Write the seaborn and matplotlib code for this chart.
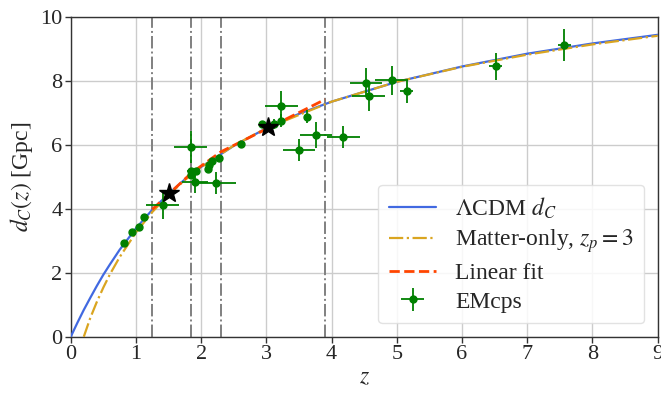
import numpy as np
import pandas as pd
import matplotlib
matplotlib.use("Agg")
import matplotlib.pyplot as plt
import seaborn as sns

# ---- data ----
lcdm_z = [0, 0.1, 0.2, 0.3, 0.4, 0.5, 0.6, 0.75, 1.0, 1.25, 1.5, 1.75, 2.0, 2.5, 3.0, 3.5, 4.0, 5.0, 6.0, 7.0, 8.0, 9.0]
lcdm_d = [0, 0.43, 0.84, 1.22, 1.59, 1.94, 2.26, 2.72, 3.39, 3.97, 4.47, 4.92, 5.31, 5.97, 6.52, 6.97, 7.35, 7.97, 8.45, 8.85, 9.17, 9.44]

matter_z = [0.2, 0.3, 0.4, 0.5, 0.6, 0.75, 1.0, 1.25, 1.5, 1.75, 2.0, 2.5, 3.0, 4.0, 5.0, 6.0, 7.0, 8.0, 9.0]
matter_d = [0.0, 0.59, 1.09, 1.54, 1.95, 2.49, 3.26, 3.90, 4.43, 4.90, 5.30, 5.98, 6.52, 7.35, 7.97, 8.44, 8.82, 9.14, 9.41]

fit_z = [1.25, 1.85, 2.3, 3.9]
fit_d = [3.98, 5.12, 5.78, 7.42]

em_z = [0.81, 0.94, 1.05, 1.12, 1.41, 1.84, 1.84, 1.85, 1.92, 1.91, 2.23, 2.10, 2.12, 2.17, 2.27,
        2.61, 2.94, 3.11, 3.23, 3.23, 3.62, 3.50, 3.76, 4.18, 4.53, 4.57, 4.92, 5.15, 6.52, 7.57]
em_d = [2.92, 3.27, 3.44, 3.73, 4.12, 5.92, 5.18, 5.06, 5.17, 4.84, 4.80, 5.25, 5.37, 5.48, 5.59,
        6.03, 6.66, 6.66, 6.76, 7.23, 6.88, 5.84, 6.31, 6.24, 7.94, 7.52, 8.02, 7.67, 8.46, 9.12]
em_zerr = [0, 0, 0, 0, 0.25, 0.25, 0.05, 0.05, 0.05, 0.2, 0.3, 0, 0, 0, 0,
           0, 0.06, 0.05, 0, 0.25, 0, 0.25, 0.25, 0.25, 0.25, 0.25, 0.25, 0.1, 0.1, 0.1]
em_derr = [0, 0, 0, 0, 0.45, 0.5, 0.1, 0.1, 0.1, 0.35, 0.35, 0.1, 0.1, 0.1, 0.1,
           0.1, 0.1, 0.15, 0.2, 0.45, 0.2, 0.35, 0.4, 0.35, 0.45, 0.45, 0.45, 0.35, 0.42, 0.5]

star_z = [1.51, 3.02]
star_d = [4.49, 6.55]

vline_z = [1.25, 1.85, 2.3, 3.9]

# ---- style ----
sns.set_theme(style="whitegrid")
plt.rcParams["font.family"] = ["Liberation Serif", "DejaVu Serif"]
plt.rcParams["mathtext.fontset"] = "stix"
plt.rcParams["axes.edgecolor"] = "#333333"
plt.rcParams["grid.color"] = "#cccccc"

fig = plt.figure(figsize=(6.61, 3.93), dpi=100)
ax = fig.add_axes([0.107, 0.143, 0.888, 0.814])

lcdm = pd.DataFrame({"z": lcdm_z, "d": lcdm_d})
matter = pd.DataFrame({"z": matter_z, "d": matter_d})
fit = pd.DataFrame({"z": fit_z, "d": fit_d})

for vz in vline_z:
    ax.axvline(vz, color="gray", linestyle="-.", linewidth=1.4, zorder=1.5)

sns.lineplot(data=lcdm, x="z", y="d", ax=ax, color="royalblue", linewidth=1.6,
             label=r"$\Lambda$CDM $d_C$", estimator=None, sort=False, zorder=3)
sns.lineplot(data=matter, x="z", y="d", ax=ax, color="goldenrod", linewidth=1.6,
             linestyle="-.", label=r"Matter-only, $z_p = 3$", estimator=None, sort=False, zorder=3)
sns.lineplot(data=fit, x="z", y="d", ax=ax, color="orangered", linewidth=2.0,
             linestyle="--", label="Linear fit", estimator=None, sort=False, zorder=3.5)

ax.errorbar(em_z, em_d, xerr=em_zerr, yerr=em_derr, fmt="o", color="green",
            markersize=5, elinewidth=1.3, capsize=0, label="EMcps", zorder=4)
ax.plot(star_z, star_d, linestyle="none", marker="*", color="black",
        markersize=15, zorder=5)

ax.set_xlim(0, 9)
ax.set_ylim(0, 10)
ax.set_xticks(range(0, 10))
ax.set_yticks([0, 2, 4, 6, 8, 10])
ax.set_xlabel(r"$z$", fontsize=17, labelpad=2)
ax.set_ylabel(r"$d_C(z)$ [Gpc]", fontsize=17, labelpad=4)
ax.tick_params(axis="both", labelsize=16, direction="out", length=4, width=1,
               color="#333333", left=True, bottom=True, pad=2)
for s in ax.spines.values():
    s.set_linewidth(1.0)
    s.set_color("#333333")
ax.grid(True, color="#cccccc", linewidth=1.0)

leg = ax.legend(loc="lower right", fontsize=17, frameon=True, framealpha=0.85,
                edgecolor="#dddddd", handlelength=2.0, borderpad=0.45, labelspacing=0.3,
                borderaxespad=0.57)

fig.savefig("out.png", dpi=100)
